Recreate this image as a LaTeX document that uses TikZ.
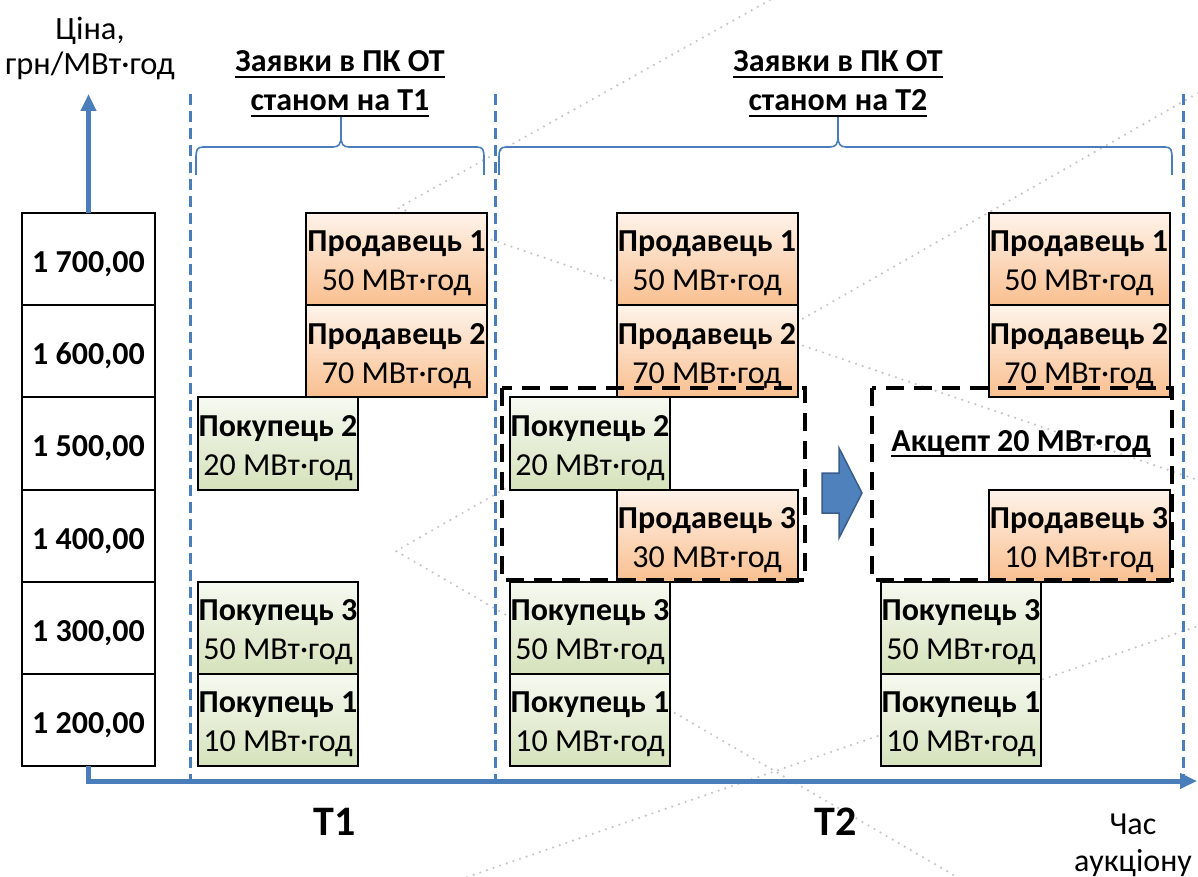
\documentclass[tikz,border=0pt]{standalone}
\usepackage{fontspec}
\setmainfont{Carlito}
\usetikzlibrary{positioning,arrows.meta}

\definecolor{osi}{HTML}{4A7EBB}
\definecolor{strilkaFill}{HTML}{4F81BD}
\definecolor{strilkaDraw}{HTML}{385D8A}
\definecolor{prodVerh}{HTML}{FEF3EA}
\definecolor{prodNyz}{HTML}{F9BF8F}
\definecolor{pokVerh}{HTML}{F6F9F1}
\definecolor{pokNyz}{HTML}{D5E2BB}
\definecolor{sirij}{HTML}{C4C4C4}

\newsavebox{\pidkrbox}
\newcommand{\pidkr}[1]{\leavevmode\sbox{\pidkrbox}{#1}\rlap{\rule[-6pt]{\wd\pidkrbox}{2.2pt}}\usebox{\pidkrbox}}
\newcommand{\zayavka}[2]{\rule{0pt}{30pt}\textbf{#1}\\#2}

\tikzset{
  tsina/.style={draw, line width=2pt, fill=white, minimum width=133pt, minimum height=92.2pt,
    inner sep=0pt, outer sep=0pt, font=\fontsize{32}{40}\selectfont\bfseries,
    execute at begin node={\rule{0pt}{31pt}}},
  prod/.style={draw, line width=2pt, top color=prodVerh, bottom color=prodNyz,
    minimum width=181pt, minimum height=92.2pt, align=center, inner sep=0pt, outer sep=0pt,
    font=\fontsize{32}{39}\selectfont},
  pokup/.style={prod, top color=pokVerh, bottom color=pokNyz, minimum width=160pt},
  zagolovok/.style={align=center, font=\fontsize{32}{39}\selectfont\bfseries},
  vis/.style={draw=osi, line width=5pt, -{Triangle[length=17pt,width=15pt]}},
  rozdil/.style={draw=osi, line width=3pt, dash pattern=on 11pt off 6pt},
  duzhka/.style={draw=osi, line width=1.6pt},
  ramka/.style={draw=black, line width=4pt, dash pattern=on 18pt off 10pt},
  krapky/.style={draw=sirij, line width=2.4pt, line cap=round, dash pattern=on 0pt off 7pt}
}

\begin{document}
\begin{tikzpicture}[x=1pt,y=-1pt]
    \useasboundingbox (0,0) rectangle (1198,877);

    % фонові пунктири
    \draw[krapky] (770,0) -- (398,208) -- (1198,480);
    \draw[krapky] (1198,93) -- (396,551) -- (957,877);
    \draw[krapky] (467,877) -- (1198,626);

    % межі інтервалів
    \draw[rozdil] (190,94) -- (190,779);
    \draw[rozdil] (495,94) -- (495,779);
    \draw[rozdil] (1183,94) -- (1183,779);

    % фігурні дужки
    \draw[duzhka] (196,175) -- (196,158) .. controls (196,150) and (197,147) .. (203,147)
        -- (333,147) .. controls (339,147) and (341,144) .. (341,136) -- (341,117)
        -- (341,136) .. controls (341,144) and (343,147) .. (349,147)
        -- (477,147) .. controls (483,147) and (484,150) .. (484,158) -- (484,175);
    \draw[duzhka] (499,175) -- (499,158) .. controls (499,150) and (500,147) .. (506,147)
        -- (830,147) .. controls (836,147) and (838,144) .. (838,136) -- (838,117)
        -- (838,136) .. controls (838,144) and (840,147) .. (846,147)
        -- (1165,147) .. controls (1171,147) and (1172,150) .. (1172,158) -- (1172,175);

    % шкала цін
    \node[tsina] (ts0) at (88.5,259.1) {1 700,00};
    \node[tsina, below=0pt of ts0] (ts1) {1 600,00};
    \node[tsina, below=0pt of ts1] (ts2) {1 500,00};
    \node[tsina, below=0pt of ts2] (ts3) {1 400,00};
    \node[tsina, below=0pt of ts3] (ts4) {1 300,00};
    \node[tsina, below=0pt of ts4] (ts5) {1 200,00};

    % осі
    \coordinate (tsinaVerh) at (88.5,94);
    \coordinate (chasKinets) at (1197,781);
    \draw[vis] (ts0.north) -- (tsinaVerh);
    \draw[vis] (ts5.south) |- (chasKinets);

    % заявки Т1
    \node[prod] (prodT1a) at (396.5,259.1) {\zayavka{Продавець 1}{50 МВт·год}};
    \node[prod, below=0pt of prodT1a] (prodT1b) {\zayavka{Продавець 2}{70 МВт·год}};
    \node[pokup] (pokT1b) at (278,443.5) {\zayavka{Покупець 2}{20 МВт·год}};
    \node[pokup] (pokT1c) at (278,627.9) {\zayavka{Покупець 3}{50 МВт·год}};
    \node[pokup, below=0pt of pokT1c] (pokT1a) {\zayavka{Покупець 1}{10 МВт·год}};

    % заявки Т2 до акцепту
    \node[prod] (prodT2a) at (707,259.1) {\zayavka{Продавець 1}{50 МВт·год}};
    \node[prod, below=0pt of prodT2a] (prodT2b) {\zayavka{Продавець 2}{70 МВт·год}};
    \node[pokup] (pokT2b) at (590,443.5) {\zayavka{Покупець 2}{20 МВт·год}};
    \node[prod] (prodT2c) at (707,535.7) {\zayavka{Продавець 3}{30 МВт·год}};
    \node[pokup] (pokT2c) at (590,627.9) {\zayavka{Покупець 3}{50 МВт·год}};
    \node[pokup, below=0pt of pokT2c] (pokT2a) {\zayavka{Покупець 1}{10 МВт·год}};

    % заявки Т2 після акцепту
    \node[prod] (prodT3a) at (1079,259.1) {\zayavka{Продавець 1}{50 МВт·год}};
    \node[prod, below=0pt of prodT3a] (prodT3b) {\zayavka{Продавець 2}{70 МВт·год}};
    \node[prod] (prodT3c) at (1079,535.7) {\zayavka{Продавець 3}{10 МВт·год}};
    \node[pokup] (pokT3c) at (961,627.9) {\zayavka{Покупець 3}{50 МВт·год}};
    \node[pokup, below=0pt of pokT3c] (pokT3a) {\zayavka{Покупець 1}{10 МВт·год}};

    % рамки і стрілка
    \draw[ramka] (502,388) rectangle (805,580);
    \draw[ramka] (872,388) rectangle (1172,580);
    \draw[fill=strilkaFill, draw=strilkaDraw, line width=1.5pt]
        (822,473) -- (839,473) -- (839,448) -- (862,493) -- (839,538) -- (839,513) -- (822,513) -- cycle;
    \node[zagolovok] (akcept) at (1021,444) {\pidkr{Акцепт 20 МВт·год}};

    % написи
    \node[align=center, font=\fontsize{32.5}{35}\selectfont] (tsinaNapys) at (90,48) {Ціна,\\грн/МВт·год};
    \node[zagolovok] (zayavky1) at (340,84) {\pidkr{Заявки в ПК ОТ}\\\pidkr{станом на Т1}};
    \node[zagolovok] (zayavky2) at (838,84) {\pidkr{Заявки в ПК ОТ}\\\pidkr{станом на Т2}};
    \node[font=\fontsize{42}{50}\selectfont\bfseries] (t1) at (335,822) {T1};
    \node[font=\fontsize{42}{50}\selectfont\bfseries] (t2) at (836,822) {T2};
    \node[align=center, font=\fontsize{32}{37}\selectfont] (chasNapys) at (1133,845) {Час\\аукціону};
\end{tikzpicture}
\end{document}
